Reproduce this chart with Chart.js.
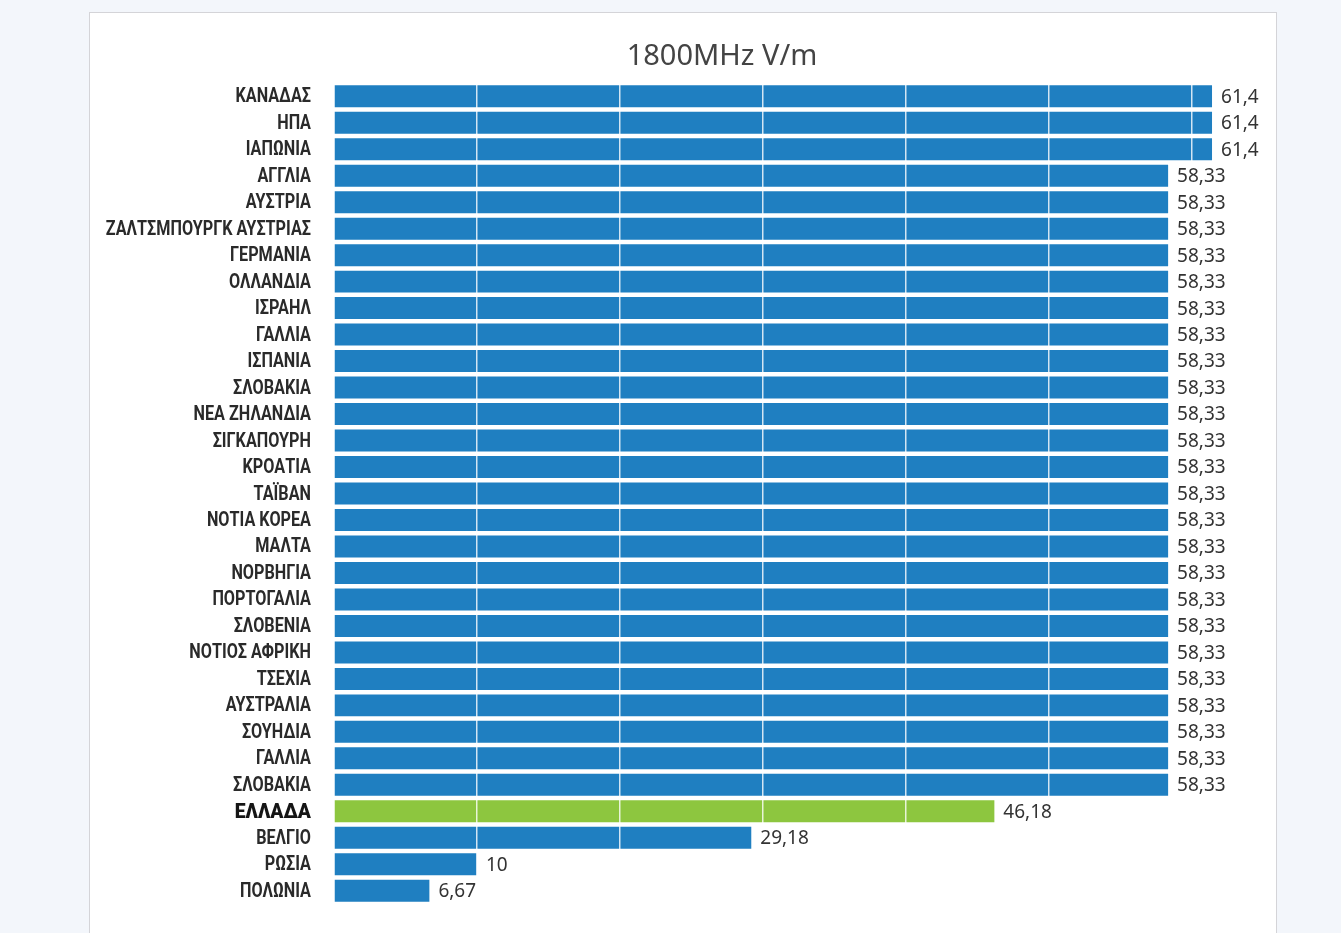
<!DOCTYPE html>
<html>
<head>
<meta charset="utf-8">
<script src="https://cdn.jsdelivr.net/npm/chart.js@4/dist/chart.umd.min.js"></script>
<style>
  html, body { margin: 0; padding: 0; background: #f3f6fb; width: 1341px; height: 933px; overflow: hidden; }
  #card { position: absolute; left: 89px; top: 12px; width: 1186px; height: 960px; background: #fff; border: 1px solid #d4d4d8; }
  #wrap { position: absolute; left: 0; top: 0; width: 1341px; height: 933px; }
</style>
</head>
<body>
<div id="card"></div>
<div id="wrap"><canvas id="c" width="1341" height="933"></canvas></div>
<script>
const chartTitle = "1800MHz V/m";
const categories = [
  "ΚΑΝΑΔΑΣ", "ΗΠΑ", "ΙΑΠΩΝΙΑ", "ΑΓΓΛΙΑ", "ΑΥΣΤΡΙΑ", "ΖΑΛΤΣΜΠΟΥΡΓΚ ΑΥΣΤΡΙΑΣ",
  "ΓΕΡΜΑΝΙΑ", "ΟΛΛΑΝΔΙΑ", "ΙΣΡΑΗΛ", "ΓΑΛΛΙΑ", "ΙΣΠΑΝΙΑ", "ΣΛΟΒΑΚΙΑ",
  "ΝΕΑ ΖΗΛΑΝΔΙΑ", "ΣΙΓΚΑΠΟΥΡΗ", "ΚΡΟΑΤΙΑ", "ΤΑΪΒΑΝ", "ΝΟΤΙΑ ΚΟΡΕΑ", "ΜΑΛΤΑ",
  "ΝΟΡΒΗΓΙΑ", "ΠΟΡΤΟΓΑΛΙΑ", "ΣΛΟΒΕΝΙΑ", "ΝΟΤΙΟΣ ΑΦΡΙΚΗ", "ΤΣΕΧΙΑ", "ΑΥΣΤΡΑΛΙΑ",
  "ΣΟΥΗΔΙΑ", "ΓΑΛΛΙΑ", "ΣΛΟΒΑΚΙΑ", "ΕΛΛΑΔΑ", "ΒΕΛΓΙΟ", "ΡΩΣΙΑ", "ΠΟΛΩΝΙΑ"
];
const values = [
  61.4, 61.4, 61.4, 58.33, 58.33, 58.33,
  58.33, 58.33, 58.33, 58.33, 58.33, 58.33,
  58.33, 58.33, 58.33, 58.33, 58.33, 58.33,
  58.33, 58.33, 58.33, 58.33, 58.33, 58.33,
  58.33, 58.33, 58.33, 46.18, 29.18, 10, 6.67
];
const highlightCategory = "ΕΛΛΑΔΑ";
const gridStep = 10;
const axisMax = 65;

const BLUE = "#1f7fc1";
const GREEN = "#8dc63f";
const hlIndex = categories.indexOf(highlightCategory);

const textPlugin = {
  id: "textLabels",
  afterDraw(chart) {
    const ctx = chart.ctx;
    const meta = chart.getDatasetMeta(0);
    const yScale = chart.scales.y;
    ctx.save();
    // value labels
    ctx.font = "400 19px 'Noto Sans', sans-serif";
    ctx.fillStyle = "#333";
    ctx.textAlign = "left";
    ctx.textBaseline = "middle";
    meta.data.forEach((bar, i) => {
      const txt = String(values[i]).replace(".", ",");
      ctx.fillText(txt, bar.x + 9, bar.y + 1);
    });
    // category labels (condensed)
    const rightEdge = chart.chartArea.left - 23;
    categories.forEach((c, i) => {
      const y = yScale.getPixelForValue(i);
      const hl = i === hlIndex;
      ctx.save();
      ctx.translate(rightEdge, y + 1);
      ctx.scale(hl ? 0.92 : 0.81, 1);
      ctx.font = (hl ? "900 21px" : "700 20px") + " Roboto, sans-serif";
      ctx.fillStyle = hl ? "#151515" : "#2a2a2a";
      ctx.textAlign = "right";
      ctx.textBaseline = "middle";
      ctx.fillText(c, 0, 0);
      ctx.restore();
    });
    // title
    ctx.font = "400 29px 'Noto Sans', sans-serif";
    ctx.fillStyle = "#444";
    ctx.textAlign = "center";
    ctx.fillText(chartTitle, 722, 57);
    ctx.restore();
  }
};

new Chart(document.getElementById("c"), {
  type: "bar",
  data: {
    labels: categories,
    datasets: [{
      data: values,
      backgroundColor: categories.map((c, i) => i === hlIndex ? GREEN : BLUE),
      borderWidth: 0,
      barPercentage: 0.83,
      categoryPercentage: 1
    }]
  },
  options: {
    indexAxis: "y",
    responsive: false,
    animation: false,
    layout: { padding: { left: 0, top: 83, right: 77.5, bottom: 29 } },
    plugins: { legend: { display: false }, title: { display: false }, tooltip: { enabled: false } },
    scales: {
      x: {
        min: 0, max: axisMax, z: 1,
        ticks: { display: false, stepSize: gridStep },
        border: { display: false },
        grid: {
          z: 1,
          drawTicks: false,
          lineWidth: 1.5,
          color: (ctx) => (ctx.tick && ctx.tick.value === 0) ? "rgba(0,0,0,0)" : "rgba(255,255,255,0.8)"
        }
      },
      y: {
        afterFit(scale) { scale.width = 334; },
        border: { display: false },
        grid: { display: false, drawTicks: false },
        ticks: { display: false, autoSkip: false }
      }
    }
  },
  plugins: [textPlugin]
});
</script>
</body>
</html>
